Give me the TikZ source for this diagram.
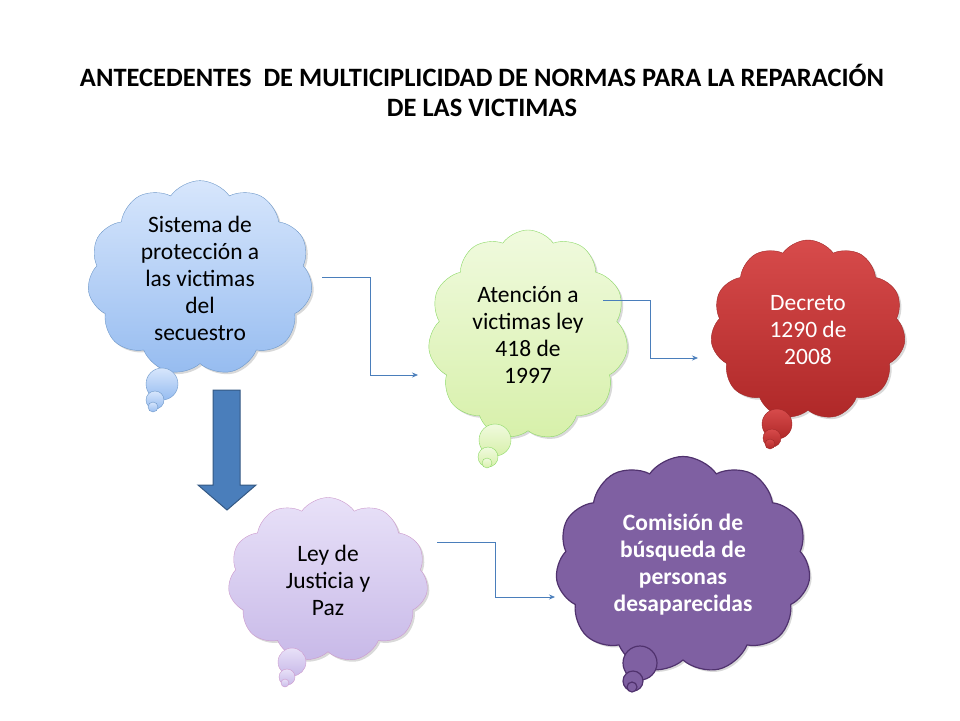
\documentclass[tikz,border=0pt]{standalone}
\usepackage{fontspec}
\setmainfont{Carlito}
\usetikzlibrary{shapes.symbols,arrows.meta,shadows}
\definecolor{lnblue}{HTML}{4A7EBB}
\begin{document}
\begin{tikzpicture}[x=1pt,y=-1pt,
  cl/.style={cloud,cloud puffs=11,cloud puff arc=110,aspect=1,inner sep=0pt,align=center,
    font=\fontsize{23.5}{27}\selectfont,drop shadow={opacity=0.3,shadow xshift=2pt,shadow yshift=-2pt}},
  bub/.style={circle,inner sep=0pt},
  conn/.style={draw=lnblue,line width=0.7pt,-{Stealth[length=6pt,width=5pt]}}]
\useasboundingbox (0,0) rectangle (960,720);
\node[font=\bfseries\fontsize{26.5}{30}\selectfont,align=center] (title) at (482,90)
 {ANTECEDENTES\ \ DE MULTICIPLICIDAD DE NORMAS PARA LA REPARACIÓN\\DE LAS VICTIMAS};
% blue
\tikzset{bl/.style={draw=lnblue!80,top color={rgb,255:red,215;green,230;blue,252},bottom color={rgb,255:red,150;green,188;blue,240}}}
\node[cl,bl,minimum width=225,minimum height=190] (c1) at (200,278) {Sistema de\\protección a\\las victimas\\del\\secuestro};
\node[bub,bl,minimum size=32] (b1a) at (162,384) {};
\node[bub,bl,minimum size=18] (b1b) at (155,400) {};
\node[bub,bl,minimum size=10] (b1c) at (153,407) {};
% green
\tikzset{gr/.style={draw=green!50!olive!60,top color={rgb,255:red,240;green,250;blue,222},bottom color={rgb,255:red,215;green,240;blue,170}}}
\node[cl,gr,minimum width=200,minimum height=210] (c2) at (528,335) {Atención a\\victimas ley\\418 de\\1997};
\node[bub,gr,minimum size=32] (b2a) at (495,440) {};
\node[bub,gr,minimum size=20] (b2b) at (488,457) {};
\node[bub,gr,minimum size=10] (b2c) at (487,463) {};
% red
\tikzset{rd/.style={draw={rgb,255:red,160;green,40;blue,40},top color={rgb,255:red,215;green,75;blue,75},bottom color={rgb,255:red,175;green,40;blue,40}}}
\node[cl,rd,text=white,minimum width=195,minimum height=180] (c3) at (808,330) {Decreto\\1290 de\\2008};
\node[bub,rd,minimum size=30] (b3a) at (777,424) {};
\node[bub,rd,minimum size=18] (b3b) at (772,438) {};
\node[bub,rd,minimum size=10] (b3c) at (770,444) {};
% lavender
\tikzset{lv/.style={draw=violet!40,top color={rgb,255:red,232;green,225;blue,248},bottom color={rgb,255:red,200;green,185;blue,232}}}
\node[cl,lv,minimum width=200,minimum height=165] (c4) at (328,580) {Ley de\\Justicia y\\Paz};
\node[bub,lv,minimum size=28] (b4a) at (292,662) {};
\node[bub,lv,minimum size=16] (b4b) at (287,677) {};
\node[bub,lv,minimum size=8] (b4c) at (285,683) {};
% purple
\tikzset{pu/.style={draw={rgb,255:red,80;green,50;blue,110},line width=1.2pt,fill={rgb,255:red,127;green,96;blue,162}}}
\node[cl,pu,text=white,font=\bfseries\fontsize{23.5}{27}\selectfont,minimum width=255,minimum height=195] (c5) at (683,565) {Comisión de\\búsqueda de\\personas\\desaparecidas};
\node[bub,pu,minimum size=34] (b5a) at (640,663) {};
\node[bub,pu,minimum size=20] (b5b) at (633,681) {};
\node[bub,pu,minimum size=10] (b5c) at (632,687) {};
% connectors
\coordinate (s1) at (322,277); \coordinate (e1) at (418,375);
\coordinate (s2) at (603,300); \coordinate (e2) at (698,358);
\coordinate (s3) at (437,542); \coordinate (e3) at (555,597);
\draw[conn] (s1) -- (370,277) -- (370,375) -- (e1);
\draw[conn] (s2) -- (650,300) -- (650,358) -- (e2);
\draw[conn] (s3) -- (495,542) -- (495,597) -- (e3);
% big arrow
\draw[fill=lnblue,draw=lnblue!70!black,line width=1pt] (213,390) -- (240,390) -- (240,485) -- (256,485) -- (227,510) -- (198,485) -- (213,485) -- cycle;
\end{tikzpicture}
\end{document}
